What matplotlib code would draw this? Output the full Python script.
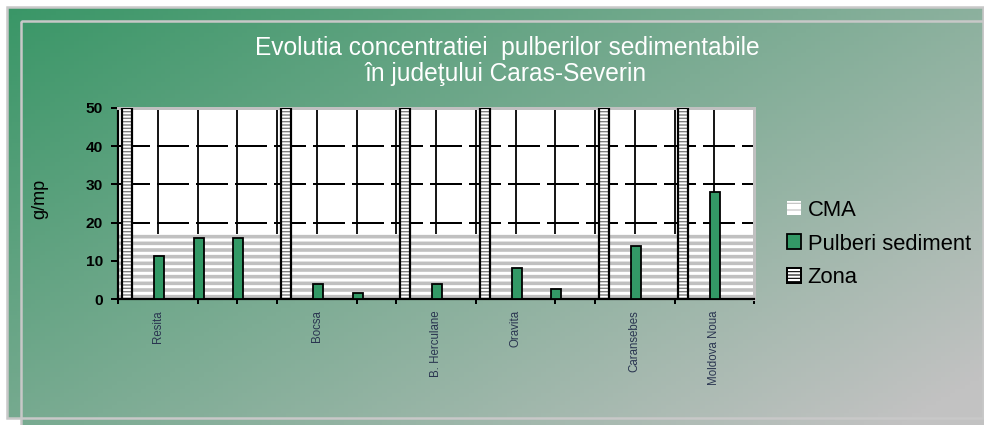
import numpy as np
import matplotlib
matplotlib.use("Agg")
import matplotlib.pyplot as plt
from matplotlib.patches import Patch, Rectangle

# ---- data (one slot per x position) ----
slot_labels = ['', 'Resita', '', '', '', 'Bocsa', '', '', 'B. Herculane', '',
               'Oravita', '', '', 'Caransebes', '', 'Moldova Noua']
pulberi = [np.nan, 11.4, 15.9, 15.9, np.nan, 3.9, 1.6, np.nan, 3.9, np.nan,
           8.1, 2.6, np.nan, 14.0, np.nan, 28.1]
zona = [50, np.nan, np.nan, np.nan, 50, np.nan, np.nan, 50, np.nan, 50,
        np.nan, np.nan, 50, np.nan, 50, np.nan]
cma = [17] * len(slot_labels)
y_ticks = [0, 10, 20, 30, 40, 50]

title_1 = 'Evolutia concentratiei  pulberilor sedimentabile'
title_2 = 'în judeţului Caras-Severin'
y_label = 'g/mp'
legend_labels = ['CMA', 'Pulberi sediment', 'Zona']

DPI = 80
W, H = 984, 425


def pt(px):
    return px * 72.0 / DPI


def gradient(x0, x1, y0, y1):
    xs = np.linspace(x0, x1, 200) / W
    ys = np.linspace(y0, y1, 100) / H
    t = 0.6 * xs[None, :] + 0.45 * ys[:, None]
    t = np.clip(t, 0, 1)[..., None]
    c0 = np.array([56, 150, 102]) / 255
    c1 = np.array([194, 194, 194]) / 255
    return c0 * (1 - t) + c1 * t


def set_hatch_lw(patches, lw):
    for p in patches:
        if hasattr(p, 'set_hatch_linewidth'):
            p.set_hatch_linewidth(lw)


plt.rcParams['font.family'] = ['Liberation Sans', 'DejaVu Sans']
fig = plt.figure(figsize=(W / DPI, H / DPI), dpi=DPI)
fig.patch.set_facecolor('white')

# background panels (pixel coordinates)
bg = fig.add_axes([0, 0, 1, 1], zorder=-10)
bg.set_xlim(0, W); bg.set_ylim(H, 0); bg.axis('off')
bg.imshow(gradient(7, 983, 7, 418), extent=(7, 983, 418, 7), aspect='auto')
bg.add_patch(Rectangle((7, 7), 976, 411, fill=False, ec='#c8c8c8', lw=pt(2.5)))
bg.imshow(gradient(21, 984, 21, 425), extent=(21, 984, 425, 21), aspect='auto')
bg.add_patch(Rectangle((21, 21), 970, 410, fill=False, ec='#c8c8c8', lw=pt(2.5)))
bg.set_xlim(0, W); bg.set_ylim(H, 0)

fig.text(507 / W, 1 - 48 / H, title_1, color='white', ha='center', va='center',
         fontsize=pt(24.5))
fig.text(506 / W, 1 - 74 / H, title_2, color='white', ha='center', va='center',
         fontsize=pt(24.5))
fig.text(40 / W, 1 - 199 / H, y_label, rotation=90, ha='center', va='center',
         fontsize=pt(18), color='black')

ax = fig.add_axes([118 / W, 1 - 299.3 / H, (754 - 118) / W, (299.3 - 107.7) / H])
ax.set_facecolor('white')
n = len(slot_labels)
x = np.arange(n)
ax.set_xlim(0, n)
ax.set_ylim(0, 50)
ax.set_axisbelow(True)

# CMA band
with plt.rc_context({'hatch.linewidth': pt(3.6)}):
    cma_bars = ax.bar(x, cma, width=1.0, align='edge', facecolor='white',
                      edgecolor='#c0c0c0', hatch='--', lw=0, zorder=1)
set_hatch_lw(cma_bars, pt(3.6))

# Pulberi sediment
pv = np.array(pulberi)
m = ~np.isnan(pv)
ax.bar(x[m] + 0.03, pv[m], width=0.25, color='#339966', edgecolor='black',
       lw=pt(1.8), zorder=3)

# Zona separators
zv = np.array(zona, dtype=float)
mz = ~np.isnan(zv)
with plt.rc_context({'hatch.linewidth': pt(1.4)}):
    zb = ax.bar(x[mz] + 0.225, zv[mz], width=0.25, facecolor='white',
                edgecolor='#808080', hatch='----', lw=0, zorder=3)
set_hatch_lw(zb, pt(1.4))
ax.bar(x[mz] + 0.225, zv[mz], width=0.25, fill=False, edgecolor='black',
       lw=pt(2.2), zorder=4)

# axes / ticks
lab_pos = [i for i, s in enumerate(slot_labels) if s]
tick_pos = [i for i in range(n + 1) if i not in lab_pos]
ax.set_xticks(lab_pos)
ax.set_xticklabels([slot_labels[i] for i in lab_pos], rotation=90, va='top',
                   fontsize=pt(11.5), color='#2a3550')
ax.set_xticks(tick_pos, minor=True)
ax.tick_params(axis='x', which='major', length=0, pad=pt(11))
ax.tick_params(axis='x', which='minor', length=pt(5), width=pt(2), color='black')
ax.set_yticks(y_ticks)
ax.tick_params(axis='y', length=pt(7), width=pt(2), pad=pt(8),
               labelsize=pt(15.5), color='black')
for t in ax.get_yticklabels():
    t.set_fontweight('bold')

ax.yaxis.grid(True, color='black', lw=pt(2), dashes=(16, 3.5))
ax.xaxis.grid(True, which='both', color='black', lw=pt(1.8))

for s in ('left', 'bottom'):
    ax.spines[s].set_color('black'); ax.spines[s].set_linewidth(pt(2.2))
for s in ('top', 'right'):
    ax.spines[s].set_color('#c0c0c0'); ax.spines[s].set_linewidth(pt(3))

with plt.rc_context({'hatch.linewidth': pt(2.5)}):
    handles = [
        Patch(facecolor='white', edgecolor='#c0c0c0', hatch='--', lw=0),
        Patch(facecolor='#339966', edgecolor='black', lw=pt(1.8)),
        Patch(facecolor='white', edgecolor='black', hatch='----', lw=pt(2)),
    ]
leg = fig.legend(handles, legend_labels, loc='center left',
                 bbox_to_anchor=(787 / W, 1 - 244 / H), frameon=False,
                 fontsize=pt(22), handlelength=0.64, handleheight=0.64,
                 handletextpad=0.3, labelspacing=0.58, borderpad=0,
                 borderaxespad=0)

fig.savefig('out.png', dpi=DPI)
